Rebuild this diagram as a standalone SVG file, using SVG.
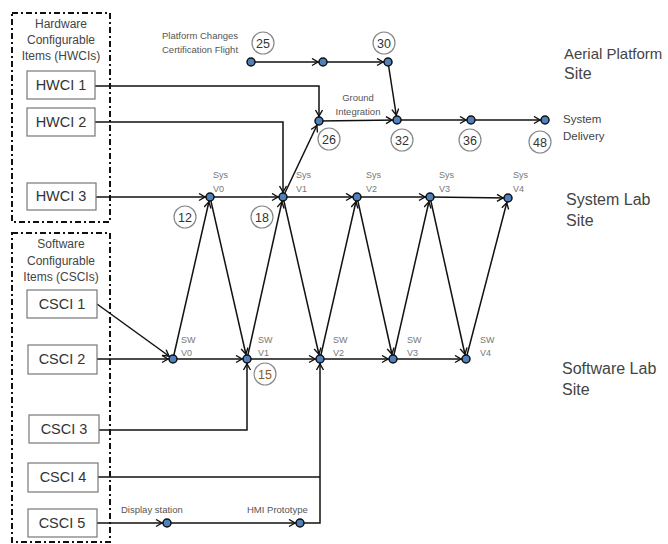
<svg xmlns="http://www.w3.org/2000/svg" width="668" height="544" viewBox="0 0 668 544">
<defs>
<marker id="arr" markerUnits="userSpaceOnUse" markerWidth="14" markerHeight="10" refX="12" refY="4" orient="auto">
<path d="M1,0.5 L7,4 L1,7.5" fill="none" stroke="#111" stroke-width="1.4"/>
</marker>
<style>
text{font-family:"Liberation Sans",Arial,sans-serif}
.grp{fill:none;stroke:#111;stroke-width:2;stroke-dasharray:6 3 2 3}
.box{fill:#fff;stroke:#777;stroke-width:1.2}
.bt{font-size:14.5px;fill:#333;text-anchor:middle}
.hd{font-size:12px;fill:#444;text-anchor:middle}
.site{font-size:16px;fill:#444}
.sm{font-size:11.5px;fill:#444}
.lab{font-size:9px;fill:#777}
.tl{font-size:9.5px;fill:#555}
.num{fill:#fff;stroke:#888;stroke-width:1.2}
.nt{font-size:12.5px;fill:#333;text-anchor:middle}
.node{fill:#4f81bd;stroke:#111;stroke-width:1.5}
.c{fill:none;stroke:#111;stroke-width:1.5}
.a{fill:none;stroke:#111;stroke-width:1.5;marker-end:url(#arr)}
</style>
</defs>
<rect width="668" height="544" fill="#fff"/>

<g id="hw-group">
<rect class="grp" x="12" y="13" width="98" height="209"/>
<text class="hd" x="61" y="28">Hardware</text>
<text class="hd" x="61" y="44">Configurable</text>
<text class="hd" x="61" y="60">Items (HWCIs)</text>
</g>
<g id="sw-group">
<rect class="grp" x="12" y="233" width="98" height="309"/>
<text class="hd" x="61" y="248">Software</text>
<text class="hd" x="61" y="265">Configurable</text>
<text class="hd" x="61" y="281">Items (CSCIs)</text>
</g>

<g id="connectors">
<path class="a" d="M95,86 H319 V121"/>
<path class="a" d="M95,122 H283 V197"/>
<path class="a" d="M96,197 H210"/>
<path class="a" d="M210,197 H283"/>
<path class="a" d="M283,197 H357"/>
<path class="a" d="M357,197 H430"/>
<path class="a" d="M430,197 L508,198"/>
<path class="a" d="M283,197 L319,121"/>
<path class="a" d="M251,62 H323"/>
<path class="a" d="M323,62 H388"/>
<path class="a" d="M388,62 L397,120"/>
<path class="a" d="M319,121 L397,120"/>
<path class="a" d="M397,120 H471"/>
<path class="a" d="M471,120 H545"/>
<path class="a" d="M97,304 L173,359"/>
<path class="a" d="M97,359 H173"/>
<path class="a" d="M173,359 H247"/>
<path class="a" d="M247,359 H320"/>
<path class="a" d="M320,359 H393"/>
<path class="a" d="M393,359 H466"/>
<path class="a" d="M173,359 L210,197"/>
<path class="a" d="M210,197 L247,359"/>
<path class="a" d="M247,359 L283,197"/>
<path class="a" d="M283,197 L320,359"/>
<path class="a" d="M320,359 L357,197"/>
<path class="a" d="M357,197 L393,359"/>
<path class="a" d="M393,359 L430,197"/>
<path class="a" d="M430,197 L466,359"/>
<path class="a" d="M466,359 L508,198"/>
<path class="a" d="M99,430 H247 V359"/>
<path class="c" d="M98,477 H320"/>
<path class="a" d="M97,523 H167"/>
<path class="a" d="M167,523 H300"/>
<path class="a" d="M300,523 H320 V359"/>
</g>

<g id="hwci1"><rect class="box" x="27" y="71" width="68" height="28"/><text class="bt" x="61" y="90">HWCI 1</text></g>
<g id="hwci2"><rect class="box" x="27" y="108" width="68" height="28"/><text class="bt" x="61" y="127">HWCI 2</text></g>
<g id="hwci3"><rect class="box" x="27" y="183" width="69" height="27"/><text class="bt" x="61" y="201">HWCI 3</text></g>
<g id="csci1"><rect class="box" x="27" y="290" width="70" height="28"/><text class="bt" x="62" y="309">CSCI 1</text></g>
<g id="csci2"><rect class="box" x="28" y="345" width="69" height="29"/><text class="bt" x="62" y="364">CSCI 2</text></g>
<g id="csci3"><rect class="box" x="29" y="415" width="70" height="28"/><text class="bt" x="64" y="434">CSCI 3</text></g>
<g id="csci4"><rect class="box" x="28" y="463" width="70" height="29"/><text class="bt" x="63" y="482">CSCI 4</text></g>
<g id="csci5"><rect class="box" x="28" y="509" width="69" height="28"/><text class="bt" x="62" y="528">CSCI 5</text></g>

<g id="platform-start"><circle class="node" cx="251" cy="62" r="4"/>
<text class="tl" x="162" y="39">Platform Changes</text>
<text class="tl" x="162" y="53">Certification Flight</text></g>
<g id="n25"><circle class="num" cx="263" cy="43" r="11"/><text class="nt" x="263" y="47.5">25</text></g>
<g id="platform-mid"><circle class="node" cx="323" cy="62" r="4"/></g>
<g id="n30"><circle class="node" cx="388" cy="62" r="4"/><circle class="num" cx="384" cy="43" r="11"/><text class="nt" x="384" y="47.5">30</text></g>
<g id="n26"><circle class="node" cx="319" cy="121" r="4"/><circle class="num" cx="329" cy="139" r="11"/><text class="nt" x="329" y="143.5">26</text></g>
<g id="n32"><circle class="node" cx="397" cy="120" r="4"/><circle class="num" cx="402" cy="140" r="11"/><text class="nt" x="402" y="144.5">32</text>
<text class="tl" x="358" y="101" text-anchor="middle">Ground</text>
<text class="tl" x="358" y="115" text-anchor="middle">Integration</text></g>
<g id="n36"><circle class="node" cx="471" cy="120" r="4"/><circle class="num" cx="470" cy="140" r="11"/><text class="nt" x="470" y="144.5">36</text></g>
<g id="n48"><circle class="node" cx="545" cy="120" r="4"/><circle class="num" cx="540" cy="142" r="11"/><text class="nt" x="540" y="146.5">48</text>
<text class="sm" x="563" y="123">System</text><text class="sm" x="563" y="140">Delivery</text></g>

<g id="sys-v0"><circle class="node" cx="210" cy="197" r="4"/><text class="lab" x="213" y="178">Sys</text><text class="lab" x="213" y="192">V0</text></g>
<g id="sys-v1"><circle class="node" cx="283" cy="197" r="4"/><text class="lab" x="296" y="178">Sys</text><text class="lab" x="296" y="192">V1</text></g>
<g id="sys-v2"><circle class="node" cx="357" cy="197" r="4"/><text class="lab" x="366" y="178">Sys</text><text class="lab" x="366" y="192">V2</text></g>
<g id="sys-v3"><circle class="node" cx="430" cy="197" r="4"/><text class="lab" x="439" y="178">Sys</text><text class="lab" x="439" y="192">V3</text></g>
<g id="sys-v4"><circle class="node" cx="508" cy="198" r="4"/><text class="lab" x="513" y="178">Sys</text><text class="lab" x="513" y="192">V4</text></g>
<g id="n12"><circle class="num" cx="185" cy="217" r="11"/><text class="nt" x="185" y="221.5">12</text></g>
<g id="n18"><circle class="num" cx="262" cy="217" r="11"/><text class="nt" x="262" y="221.5">18</text></g>

<g id="sw-v0"><circle class="node" cx="173" cy="359" r="4"/><text class="lab" x="181" y="343">SW</text><text class="lab" x="181" y="356">V0</text></g>
<g id="sw-v1"><circle class="node" cx="247" cy="359" r="4"/><text class="lab" x="258" y="343">SW</text><text class="lab" x="258" y="356">V1</text></g>
<g id="sw-v2"><circle class="node" cx="320" cy="359" r="4"/><text class="lab" x="333" y="343">SW</text><text class="lab" x="333" y="356">V2</text></g>
<g id="sw-v3"><circle class="node" cx="393" cy="359" r="4"/><text class="lab" x="407" y="343">SW</text><text class="lab" x="407" y="356">V3</text></g>
<g id="sw-v4"><circle class="node" cx="466" cy="359" r="4"/><text class="lab" x="480" y="343">SW</text><text class="lab" x="480" y="356">V4</text></g>
<g id="n15"><circle class="num" cx="265" cy="374" r="11"/><text class="nt" x="265" y="378.5" style="fill:#8a5a20">15</text></g>

<g id="display-station"><circle class="node" cx="167" cy="523" r="4"/><text class="tl" x="121" y="513">Display station</text></g>
<g id="hmi-prototype"><circle class="node" cx="300" cy="523" r="4"/><text class="tl" x="247" y="513">HMI Prototype</text></g>

<g id="site-labels">
<text class="site" x="564" y="59" style="font-size:15px">Aerial Platform</text>
<text class="site" x="564" y="79">Site</text>
<text class="site" x="566" y="205">System Lab</text>
<text class="site" x="566" y="226">Site</text>
<text class="site" x="562" y="374">Software Lab</text>
<text class="site" x="562" y="395">Site</text>
</g>
</svg>
